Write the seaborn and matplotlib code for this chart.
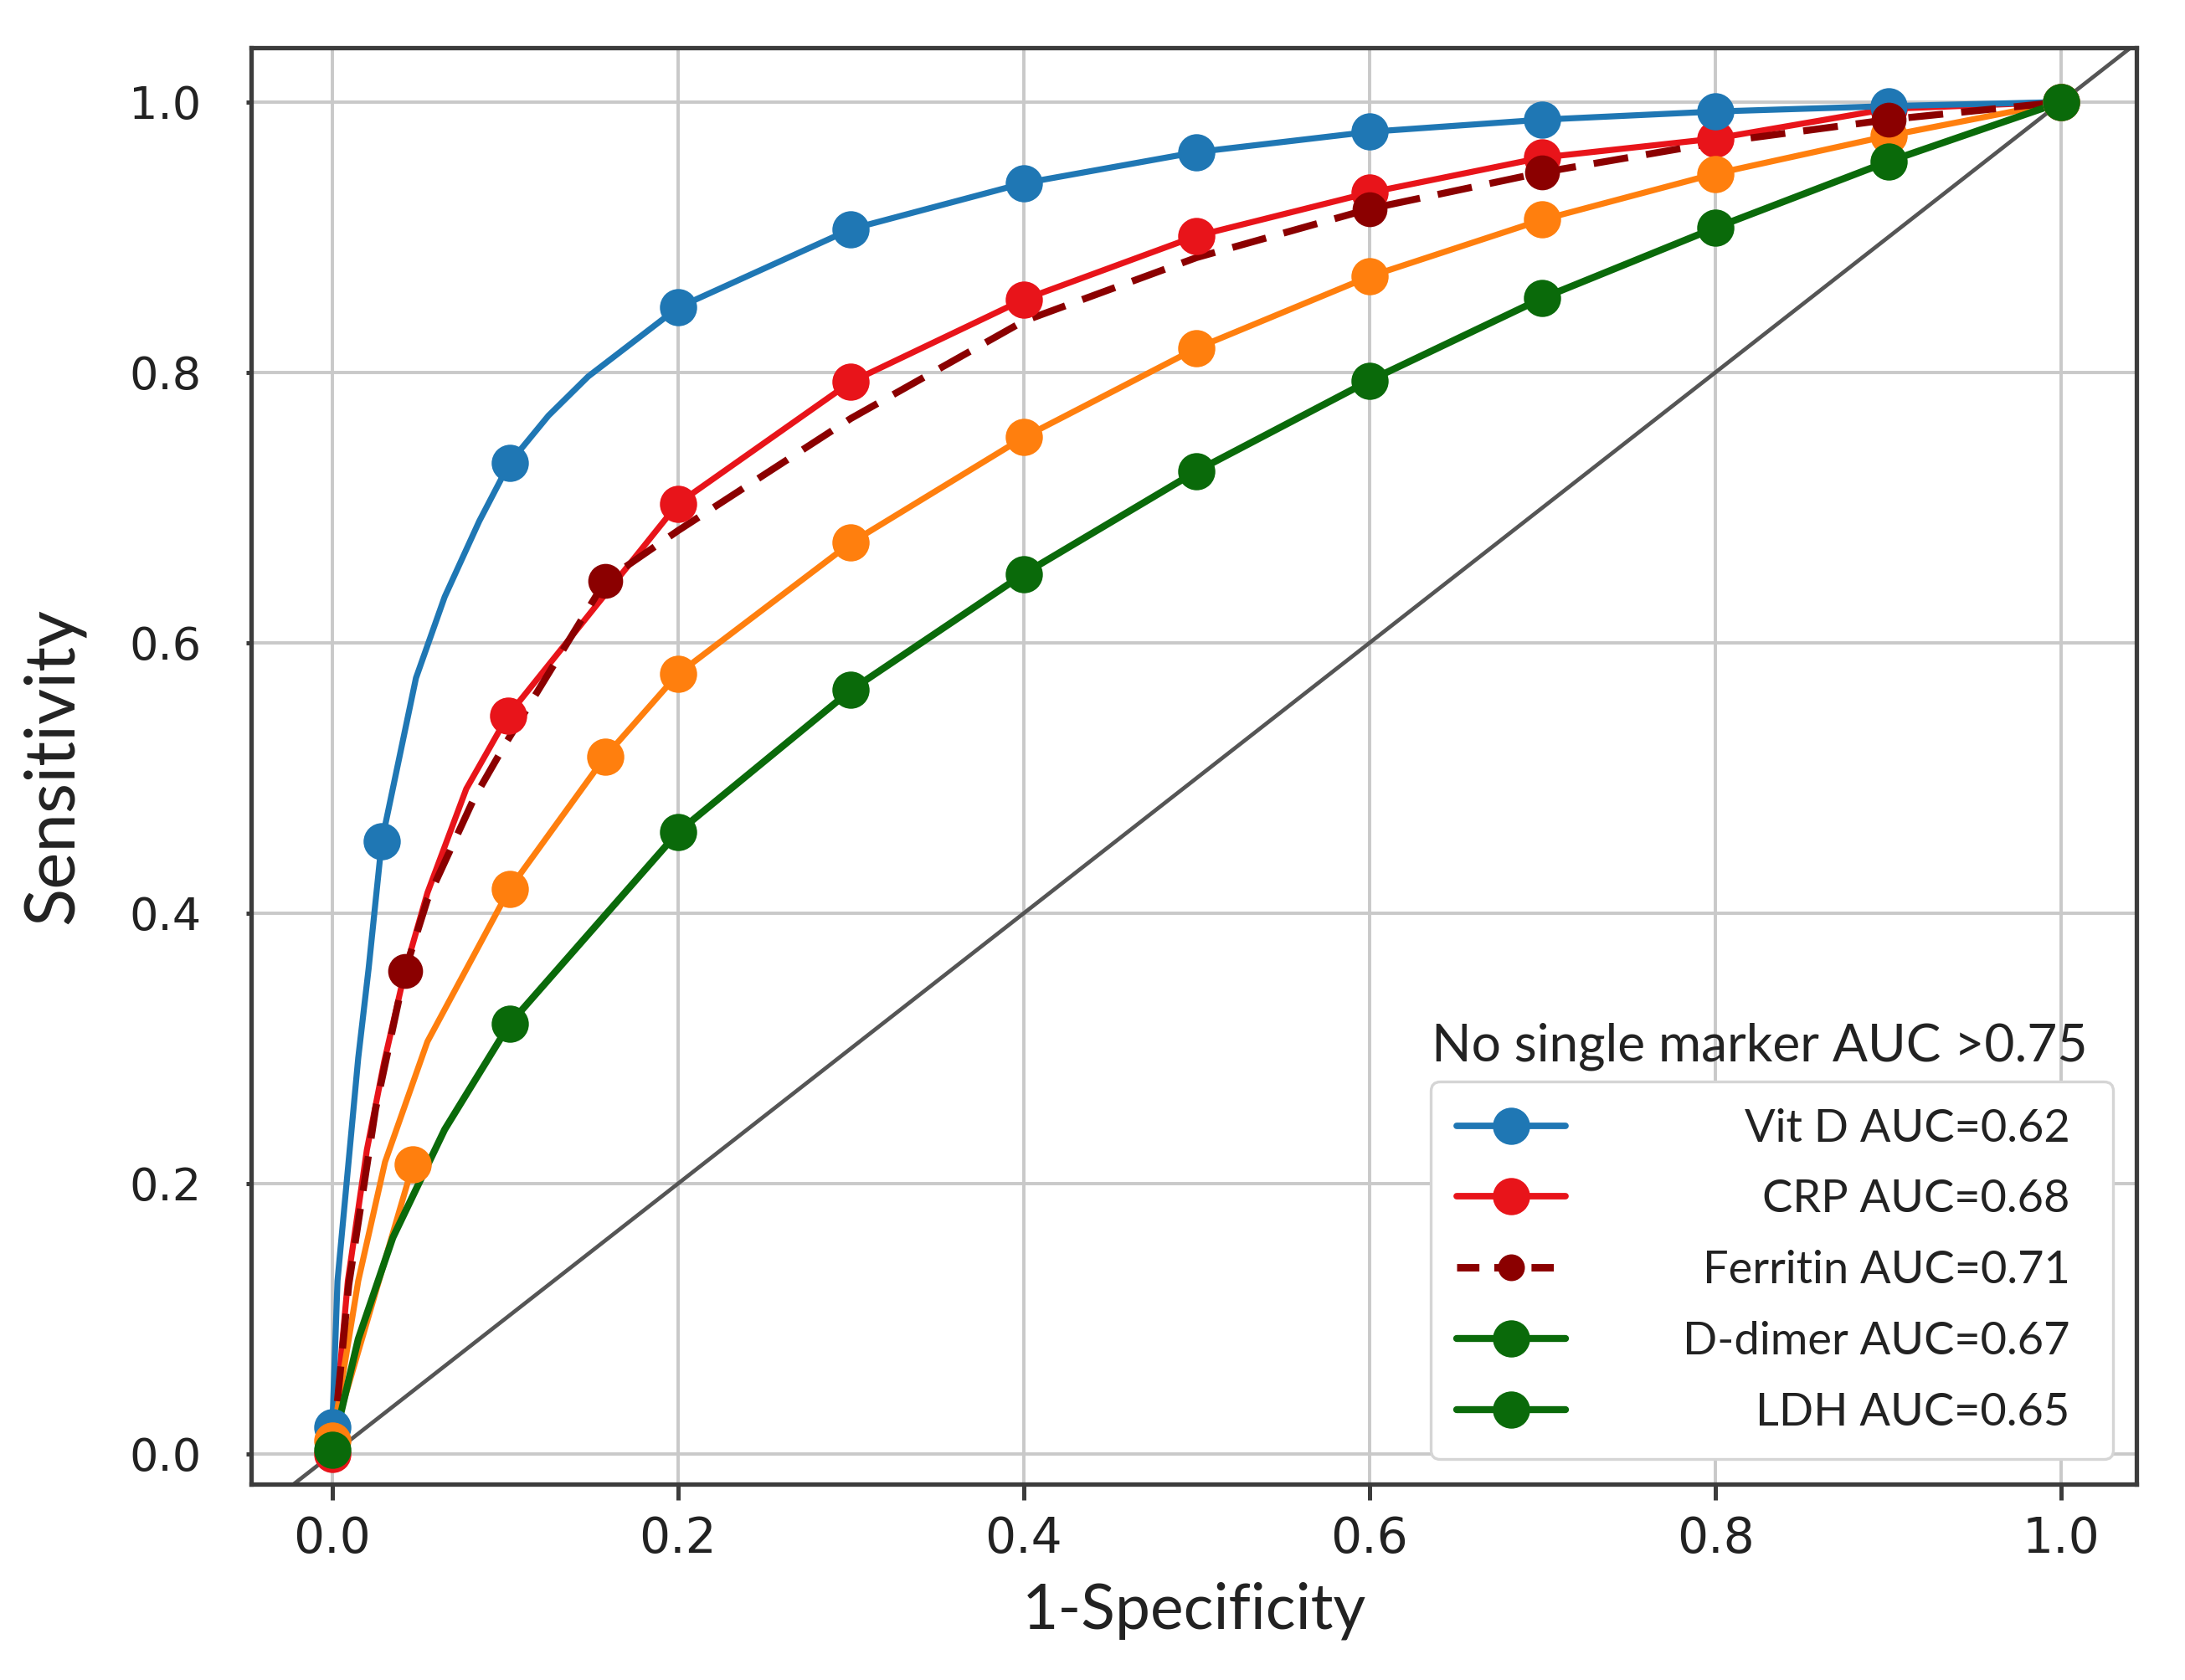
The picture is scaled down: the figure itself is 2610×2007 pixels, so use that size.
import matplotlib
matplotlib.use("Agg")
import matplotlib.pyplot as plt
import seaborn as sns
from matplotlib.lines import Line2D

# ROC-kurver lest av figuren (1-spesifisitet, sensitivitet)
vitd_x = [0.0, 0.003, 0.015, 0.021, 0.0286, 0.0484, 0.065, 0.085, 0.1025, 0.125, 0.148, 0.2, 0.3, 0.4, 0.5, 0.6, 0.7, 0.8, 0.9, 1.0]
vitd_y = [0.02, 0.128, 0.293, 0.359, 0.453, 0.574, 0.634, 0.690, 0.733, 0.768, 0.797, 0.848, 0.906, 0.940, 0.963, 0.978, 0.987, 0.993, 0.997, 1.0]
vitd_mx = [0.0, 0.0286, 0.1025, 0.2, 0.3, 0.4, 0.5, 0.6, 0.7, 0.8, 0.9, 1.0]
vitd_my = [0.02, 0.453, 0.733, 0.848, 0.906, 0.940, 0.963, 0.978, 0.987, 0.993, 0.997, 1.0]

crp_x = [0.0, 0.009, 0.02, 0.030, 0.042, 0.055, 0.0775, 0.1015, 0.2, 0.3, 0.4, 0.5, 0.6, 0.7, 0.8, 0.9, 1.0]
crp_y = [0.0, 0.128, 0.225, 0.29, 0.357, 0.415, 0.492, 0.546, 0.703, 0.793, 0.854, 0.901, 0.933, 0.959, 0.973, 0.995, 1.0]
crp_mx = [0.0, 0.1015, 0.2, 0.3, 0.4, 0.5, 0.6, 0.7, 0.8, 0.9, 1.0]
crp_my = [0.0, 0.546, 0.703, 0.793, 0.854, 0.901, 0.933, 0.959, 0.973, 0.995, 1.0]

fer_x = [0.0, 0.0095, 0.025, 0.042, 0.055, 0.082, 0.1, 0.158, 0.2, 0.3, 0.4, 0.5, 0.6, 0.7, 0.8, 0.9, 1.0]
fer_y = [0.0, 0.125, 0.255, 0.357, 0.41, 0.485, 0.525, 0.646, 0.683, 0.766, 0.838, 0.885, 0.921, 0.948, 0.970, 0.987, 1.0]
fer_mx = [0.042, 0.158, 0.6, 0.7, 0.9]
fer_my = [0.357, 0.646, 0.921, 0.948, 0.987]

ora_x = [0.0, 0.015, 0.0305, 0.055, 0.1025, 0.158, 0.2, 0.3, 0.4, 0.5, 0.6, 0.7, 0.8, 0.9, 1.0]
ora_y = [0.01, 0.128, 0.216, 0.305, 0.418, 0.516, 0.577, 0.674, 0.752, 0.818, 0.871, 0.913, 0.947, 0.975, 1.0]
ora_stub_x = [0.0, 0.0466]
ora_stub_y = [0.01, 0.214]
ora_mx = [0.0, 0.0466, 0.1025, 0.158, 0.2, 0.3, 0.4, 0.5, 0.6, 0.7, 0.8, 0.9, 1.0]
ora_my = [0.01, 0.214, 0.418, 0.516, 0.577, 0.674, 0.752, 0.818, 0.871, 0.913, 0.947, 0.975, 1.0]

grn_x = [0.0, 0.015, 0.035, 0.065, 0.1025, 0.2, 0.3, 0.4, 0.5, 0.6, 0.7, 0.8, 0.9, 1.0]
grn_y = [0.003, 0.085, 0.16, 0.24, 0.318, 0.46, 0.565, 0.651, 0.727, 0.794, 0.855, 0.907, 0.956, 1.0]
grn_mx = [0.0, 0.1025, 0.2, 0.3, 0.4, 0.5, 0.6, 0.7, 0.8, 0.9, 1.0]
grn_my = [0.003, 0.318, 0.46, 0.565, 0.651, 0.727, 0.794, 0.855, 0.907, 0.956, 1.0]

labels = ["Vit D AUC=0.62", "CRP AUC=0.68", "Ferritin AUC=0.71", "D-dimer AUC=0.67", "LDH AUC=0.65"]
ticks = [0.0, 0.2, 0.4, 0.6, 0.8, 1.0]

BLUE = "#1f77b4"
RED = "#e8141a"
DRED = "#8b0000"
ORANGE = "#ff7f0e"
GREEN = "#0a6a0a"

sns.set_theme(style="whitegrid")
plt.rcParams["font.family"] = ["DejaVu Sans"]

fig = plt.figure(figsize=(13.05, 10.035), dpi=200)
ax = fig.add_axes([0.1149, 0.1166, 0.9778 - 0.1149, 0.9716 - 0.1166])
ax.set_facecolor("white")

ax.axline((0, 0), (1, 1), color="#555555", lw=1.7, zorder=2)

ms = 15
lw = 2.6


def curve(x, y, color, width):
    sns.lineplot(x=x, y=y, ax=ax, color=color, lw=width, sort=False,
                 estimator=None, zorder=3)
    return ax.lines[-1]


def dots(x, y, color, size):
    ax.plot(x, y, ls="none", marker="o", ms=size, color=color, mec=color, zorder=4)


curve(crp_x, crp_y, RED, lw)
dots(crp_mx, crp_my, RED, ms)
curve(vitd_x, vitd_y, BLUE, lw)
dots(vitd_mx, vitd_my, BLUE, ms)
curve(ora_x, ora_y, ORANGE, lw)
curve(ora_stub_x, ora_stub_y, ORANGE, lw)
dots(ora_mx, ora_my, ORANGE, ms)
fer_line = curve(fer_x, fer_y, DRED, 3.0)
fer_line.set_dashes((5.0, 2.6))
dots(fer_mx, fer_my, DRED, 14)
curve(grn_x, grn_y, GREEN, 3.0)
dots(grn_mx, grn_my, GREEN, ms)

ax.set_xlim(-0.047, 1.0436)
ax.set_ylim(-0.0223, 1.0402)
ax.set_xticks(ticks)
ax.set_yticks(ticks)
ax.set_xticklabels([f"{t:.1f}" for t in ticks])
ax.set_yticklabels([f"{t:.1f}" for t in ticks])
ax.grid(True, color="#c9c9c9", lw=1.4)
ax.set_axisbelow(True)
for s in ax.spines.values():
    s.set_color("#3c3c3c")
    s.set_linewidth(1.9)
ax.tick_params(axis="x", length=6.8, width=1.8, pad=6.5, labelsize=21,
               color="#3c3c3c", labelcolor="#222222", bottom=True)
ax.tick_params(axis="y", length=2, width=1.8, pad=19.5, labelsize=19.5,
               color="#3c3c3c", labelcolor="#222222", left=True)

ax.set_xlabel("1-Specificity", fontsize=27, family="Lato", color="#222222")
ax.set_ylabel("Sensitivity", fontsize=30, family="Lato", color="#222222")
ax.xaxis.set_label_coords(0.5, -0.088)
ax.xaxis.label.set_va("center")
ax.yaxis.set_label_coords(-0.1048, 0.5)
ax.yaxis.label.set_va("center")

handles = [
    Line2D([], [], color=BLUE, lw=2.8, marker="o", ms=ms),
    Line2D([], [], color=RED, lw=2.8, marker="o", ms=ms),
    Line2D([], [], color=DRED, lw=3.2, marker="o", ms=10.5, dashes=(3.0, 2.0)),
    Line2D([], [], color=GREEN, lw=3.0, marker="o", ms=ms),
    Line2D([], [], color=GREEN, lw=3.0, marker="o", ms=ms),
]
leg = ax.legend(handles, labels, loc="lower right", bbox_to_anchor=(0.9876, 0.0175),
                borderaxespad=0, prop={"family": "Lato", "size": 19.5},
                handlelength=2.4, handletextpad=2.95, labelspacing=0.66,
                borderpad=0.58, frameon=True, fancybox=True, framealpha=1,
                edgecolor="#d5d5d5", facecolor="white")
leg.get_frame().set_linewidth(1.2)
for t in leg.get_texts():
    t.set_color("#222222")

# Høyrejusterer legendtekstene
fig.canvas.draw()
renderer = fig.canvas.get_renderer()
widths = [t.get_window_extent(renderer).width for t in leg.get_texts()]
wmax = max(widths)
for t, w in zip(leg.get_texts(), widths):
    t.set_ha("right")
    t.set_position((wmax - w - 20, 0))

ax.text(0.800, 0.2943, "No single marker AUC >0.75", transform=ax.transAxes,
        ha="center", va="baseline", fontsize=22.4, family="Lato", color="#222222")

fig.savefig("out.png", dpi=200, facecolor="white")
